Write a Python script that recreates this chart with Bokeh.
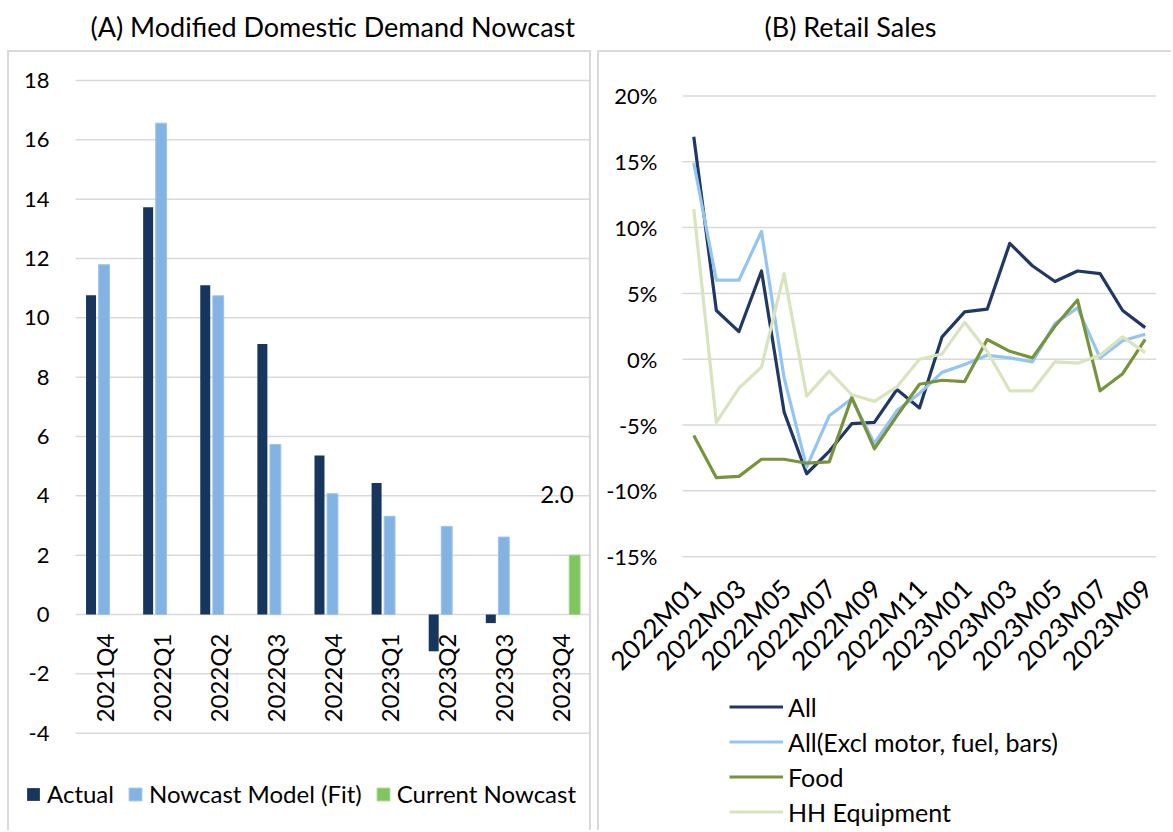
import numpy as np
from bokeh.plotting import figure
from bokeh.models import (ColumnDataSource, FixedTicker, PrintfTickFormatter, Legend,
                          LegendItem, Range1d)
from bokeh.layouts import row
from bokeh.transform import dodge
from bokeh.core.properties import value
from bokeh.embed import file_html
from bokeh.resources import INLINE

FONT = "Lato"

# ---------------- Panel A data ----------------
quarters = ["2021Q4", "2022Q1", "2022Q2", "2022Q3", "2022Q4",
            "2023Q1", "2023Q2", "2023Q3", "2023Q4"]
actual = [10.76, 13.73, 11.10, 9.12, 5.36, 4.43, -1.24, -0.29, None]
nowcast_fit = [11.79, 16.56, 10.74, 5.73, 4.07, 3.31, 2.97, 2.61, None]
current_nowcast = [None, None, None, None, None, None, None, None, 2.0]
left_ticks = [-4, -2, 0, 2, 4, 6, 8, 10, 12, 14, 16, 18]

# ---------------- Panel B data ----------------
months = ["2022M01", "2022M02", "2022M03", "2022M04", "2022M05", "2022M06",
          "2022M07", "2022M08", "2022M09", "2022M10", "2022M11", "2022M12",
          "2023M01", "2023M02", "2023M03", "2023M04", "2023M05", "2023M06",
          "2023M07", "2023M08", "2023M09"]
retail_all = [16.9, 3.7, 2.1, 6.7, -4.0, -8.7, -7.0, -4.9, -4.8, -2.3, -3.7,
              1.7, 3.6, 3.8, 8.8, 7.1, 5.9, 6.7, 6.5, 3.7, 2.4]
retail_excl = [14.9, 6.0, 6.0, 9.7, -1.4, -8.2, -4.3, -3.0, -6.4, -3.9, -2.6,
               -1.0, -0.4, 0.3, 0.1, -0.2, 2.7, 3.9, 0.1, 1.4, 1.9]
food = [-5.8, -9.0, -8.9, -7.6, -7.6, -7.9, -7.8, -2.9, -6.8, -4.3, -1.9,
        -1.6, -1.7, 1.5, 0.6, 0.1, 2.5, 4.5, -2.4, -1.1, 1.5]
hh_equipment = [11.4, -4.8, -2.2, -0.6, 6.5, -2.8, -0.9, -2.7, -3.2, -2.1, 0.0,
                0.4, 2.8, 0.6, -2.4, -2.4, -0.2, -0.3, 0.3, 1.7, 0.5]
right_ticks = [-15, -10, -5, 0, 5, 10, 15, 20]

TXT = "#000000"
GRID = "#d9d9d9"
H = 830


def frame_lines(rects):
    """CSS background drawing the thin grey panel border (decoration only)."""
    parts = [f"linear-gradient({GRID},{GRID}) {x}px {y}px / {w}px {h}px no-repeat"
             for (x, y, w, h) in rects]
    return {"background": ", ".join(parts)}


def style_title(p, text, offset):
    p.title.text = text
    p.title.align = "left"
    p.title.offset = offset
    p.title.text_font = FONT
    p.title.text_font_size = "27px"
    p.title.text_font_style = "normal"
    p.title.text_color = TXT
    p.title.standoff = 15


def style_yaxis(ax, standoff):
    ax.axis_line_color = None
    ax.major_tick_line_color = None
    ax.minor_tick_line_color = None
    ax.major_tick_out = 0
    ax.major_tick_in = 0
    ax.major_label_standoff = standoff
    ax.major_label_text_font = FONT
    ax.major_label_text_font_size = "22px"
    ax.major_label_text_color = TXT


# ================= Panel A =================
n_q = len(quarters)
qx = [i + 0.5 for i in range(n_q)]          # category centres on a numeric scale

p1 = figure(width=594, height=H, x_range=Range1d(-0.963, n_q),
            y_range=Range1d(-7.28, 19.01), x_axis_location=None,
            output_backend="svg", toolbar_location=None,
            min_border_left=20, min_border_right=5, min_border_top=50,
            min_border_bottom=0)
p1.outline_line_color = None
p1.border_fill_color = None
p1.background_fill_color = None
p1.styles = frame_lines([(7, 50, 584, 2), (7, 50, 2, H - 50), (589, 50, 2, H - 50)])
style_title(p1, "(A) Modified Domestic Demand Nowcast", 70)

# horizontal gridlines over the category area only
p1.segment(x0=0, x1=n_q, y0=left_ticks, y1=left_ticks,
           line_color=GRID, line_width=1.5)


def series_source(vals):
    x = [qx[i] for i, v in enumerate(vals) if v is not None]
    v = [v for v in vals if v is not None]
    return ColumnDataSource(dict(x=x, v=v))


r_act = p1.vbar(x=dodge("x", -0.228), top="v", bottom=0,
                width=0.175, source=series_source(actual),
                fill_color="#17365d", line_color=None)
r_fit = p1.vbar(x=dodge("x", 0.0), top="v", bottom=0,
                width=0.19, source=series_source(nowcast_fit),
                fill_color="#83b3e3", line_color="#9dc3e6", line_width=1)
r_cur = p1.vbar(x=dodge("x", 0.24), top="v", bottom=0,
                width=0.19, source=series_source(current_nowcast),
                fill_color="#7ec65e", line_color="#a9d18e", line_width=1)

ya = p1.yaxis[0]
ya.ticker = FixedTicker(ticks=left_ticks)
ya.formatter = PrintfTickFormatter(format="%d")
style_yaxis(ya, -29)
p1.ygrid.visible = False
p1.xgrid.visible = False

# category labels placed next to the zero line (as in the source chart)
p1.text(x="x", y="y", text="q",
        source=ColumnDataSource(dict(x=qx, y=[0] * n_q, q=quarters)),
        angle=np.pi / 2, text_align="right", text_baseline="middle",
        y_offset=19, text_font=value(FONT), text_font_size="24px",
        text_color=TXT)

# data label for the current nowcast
cur_src = series_source(current_nowcast)
cur_src.data["lbl"] = [f"{v:.1f}" for v in cur_src.data["v"]]
p1.text(x="x", y="v", text="lbl", source=cur_src, x_offset=-4, y_offset=-61,
        text_align="center", text_baseline="alphabetic",
        text_font=value(FONT), text_font_size="24px", text_color=TXT)

leg1 = Legend(items=[LegendItem(label="Actual", renderers=[r_act]),
                     LegendItem(label="Nowcast Model (Fit)", renderers=[r_fit]),
                     LegendItem(label="Current Nowcast", renderers=[r_cur])],
              orientation="horizontal", location=(5, 22),
              glyph_width=16, glyph_height=16, label_height=26,
              label_standoff=6, spacing=13, padding=0, margin=0,
              border_line_color=None, background_fill_alpha=0,
              label_text_font=FONT, label_text_font_size="24px",
              label_text_color=TXT)
p1.add_layout(leg1)

# ================= Panel B =================
n_m = len(months)
p2 = figure(width=577, height=H, x_range=Range1d(-4.133, n_m - 0.5),
            y_range=Range1d(-35.80, 23.45), x_axis_location=None,
            output_backend="svg", toolbar_location=None,
            min_border_left=6, min_border_right=15, min_border_top=50,
            min_border_bottom=0)
p2.outline_line_color = None
p2.border_fill_color = None
p2.background_fill_color = None
p2.styles = frame_lines([(3, 50, 574, 2), (3, 50, 2, H - 50)])
style_title(p2, "(B) Retail Sales", 164)

p2.segment(x0=-0.5, x1=n_m - 0.5, y0=right_ticks, y1=right_ticks,
           line_color=GRID, line_width=1.5)

xs = list(range(n_m))
series = [("All", retail_all, "#203864"),
          ("All(Excl motor, fuel, bars)", retail_excl, "#93c5f3"),
          ("Food", food, "#77933c"),
          ("HH Equipment", hh_equipment, "#d7e4bd")]
items = []
for name, vals, col in series:
    r = p2.line(xs, vals, line_color=col, line_width=3.2, line_join="round")
    items.append(LegendItem(label=name, renderers=[r]))

ya2 = p2.yaxis[0]
ya2.ticker = FixedTicker(ticks=right_ticks)
ya2.formatter = PrintfTickFormatter(format="%d%%")
style_yaxis(ya2, -57)
p2.ygrid.visible = False
p2.xgrid.visible = False

# month labels (every second month), rotated 45 degrees under the -15% line
tick_idx = list(range(0, n_m, 2))
p2.text(x="x", y="y", text="m",
        source=ColumnDataSource(dict(x=tick_idx, y=[right_ticks[0]] * len(tick_idx),
                                     m=[months[i] for i in tick_idx])),
        angle=np.pi / 4, text_align="right", text_baseline="middle",
        x_offset=2, y_offset=27, text_font=value(FONT), text_font_size="26px",
        text_color=TXT)

leg2 = Legend(items=items, orientation="vertical", location=(129, 1),
              glyph_width=54, glyph_height=35, label_height=35,
              label_standoff=5, spacing=0, padding=0, margin=0,
              border_line_color=None, background_fill_alpha=0,
              label_text_font=FONT, label_text_font_size="25px",
              label_text_color=TXT)
p2.add_layout(leg2)

layout = row(p1, p2)
open("out.html", "w").write(file_html(layout, INLINE))
